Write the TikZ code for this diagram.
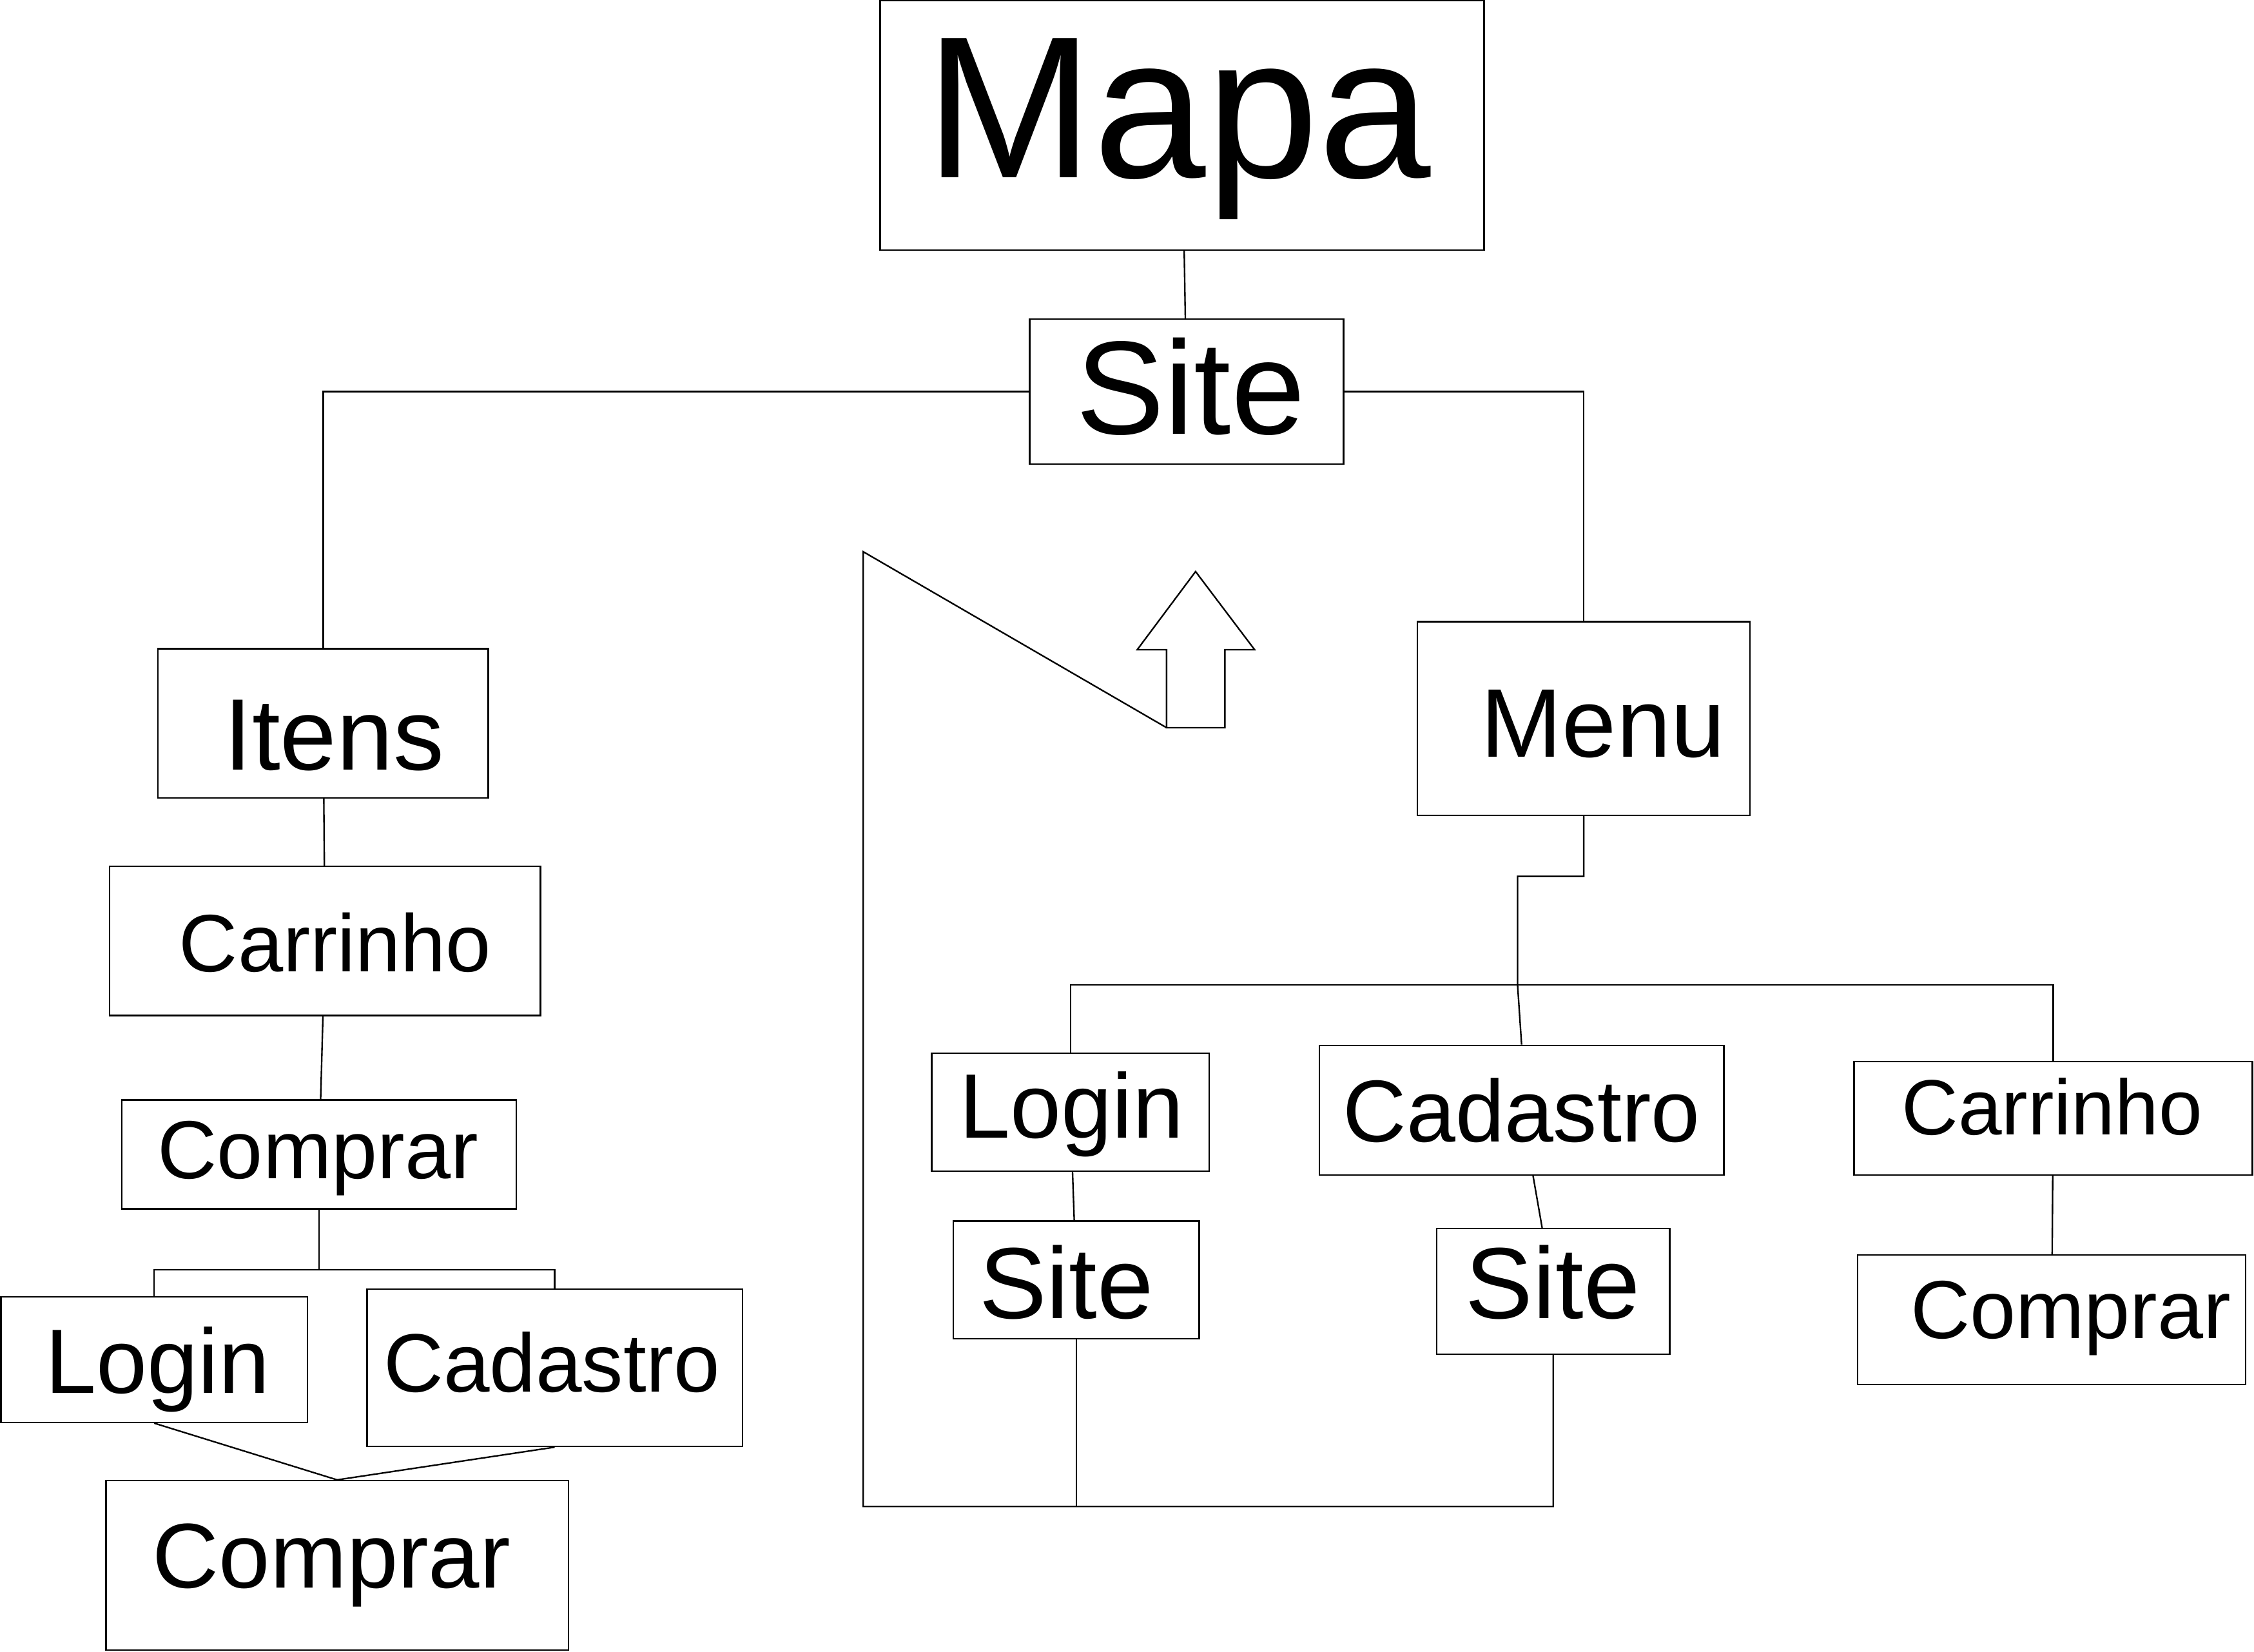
\documentclass[tikz,border=0pt]{standalone}
\usepackage{fontspec}
\setmainfont{Liberation Sans}
\tikzset{
    box/.style={draw,rectangle,inner sep=0pt,line width=0.3pt},
    wh/.style 2 args={minimum width=#1*0.01cm,minimum height=#2*0.01cm},
    word/.style={inner sep=0pt,anchor=base,font=\fontsize{#1}{#1}\selectfont},
    link/.style={-,line width=0.3pt}
}

\begin{document}
\begin{tikzpicture}[x=0.01cm,y=-0.01cm]
    \useasboundingbox (0,0) rectangle (1568,1149);

    % top
    \node[box,wh={420.2}{173.3}] (mapa) at (822.3,87.25) {};
    \node[word=40.0] (mapa t) at (819.5,123.6) {Mapa};
    \node[box,wh={218.3}{100.9}] (site) at (825.45,272.45) {};
    \node[word=26.3] (site t) at (828.2,302.2) {Site};

    % left branch
    \node[box,wh={229.8}{103.8}] (itens) at (224.8,503.2) {};
    \node[word=20.1] (itens t) at (232.3,535.5) {Itens};
    \node[box,wh={299.8}{103.7}] (carrinho 1) at (226.1,654.55) {};
    \node[word=16.1] (carrinho 1 t) at (233.2,676.0) {Carrinho};
    \node[box,wh={274.6}{75.8}] (comprar 1) at (222.0,803.0) {};
    \node[word=16.3] (comprar 1 t) at (221.2,819.7) {Comprar};
    \node[box,wh={213.1}{87.4}] (login 1) at (107.25,945.8) {};
    \node[word=18.1] (login 1 t) at (109.6,969.1) {Login};
    \node[box,wh={261.1}{109.5}] (cadastro 1) at (385.85,951.45) {};
    \node[word=16.4] (cadastro 1 t) at (384.0,968.1) {Cadastro};
    \node[box,wh={321.7}{117.9}] (comprar 2) at (234.55,1088.95) {};
    \node[word=18.2] (comprar 2 t) at (230.6,1104.7) {Comprar};

    % right branch
    \node[box,wh={231.5}{134.7}] (menu) at (1101.75,499.75) {};
    \node[word=19.3] (menu t) at (1115.2,526.5) {Menu};
    \node[box,wh={192.9}{82.1}] (login 2) at (744.65,773.65) {};
    \node[word=18.1] (login 2 t) at (745.5,791.5) {Login};
    \node[box,wh={281.4}{90.1}] (cadastro 2) at (1058.5,772.25) {};
    \node[word=17.4] (cadastro 2 t) at (1058.5,794.3) {Cadastro};
    \node[box,wh={277.1}{78.7}] (carrinho 2) at (1428.25,777.95) {};
    \node[word=15.5] (carrinho 2 t) at (1427.5,789.6) {Carrinho};
    \node[box,wh={170.9}{81.9}] (site 2) at (748.75,890.45) {};
    \node[word=20.0] (site 2 t) at (741.8,917.4) {Site};
    \node[box,wh={162.0}{87.3}] (site 3) at (1080.5,898.35) {};
    \node[word=20.0] (site 3 t) at (1080.2,917.4) {Site};
    \node[box,wh={269.9}{89.9}] (comprar 3) at (1427.3,918.05) {};
    \node[word=16.3] (comprar 3 t) at (1440.5,931.1) {Comprar};

    \coordinate (fork 1) at (222,883.2);
    \coordinate (fork 2) at (1055.7,685.2);
    \coordinate (loop top) at (600.5,383.8);
    \coordinate (loop corner) at (600.5,1048);
    \coordinate (arrow tail) at (811.5,506.2);

    % connectors
    \draw[link] (mapa) -- (site);
    \draw[link] (site.west) -| (itens.north);
    \draw[link] (site.east) -| (menu.north);
    \draw[link] (itens) -- (carrinho 1);
    \draw[link] (carrinho 1) -- (comprar 1);
    \draw[link] (comprar 1.south) -- (fork 1);
    \draw[link] (login 1.north) |- (fork 1) -| (cadastro 1.north);
    \draw[link] (login 1.south) -- (comprar 2.north);
    \draw[link] (cadastro 1.south) -- (comprar 2.north);

    \draw[link] (menu.south) -- ++(0,42) -| (fork 2) -- (cadastro 2.north);
    \draw[link] (login 2.north) |- (fork 2) -| (carrinho 2.north);
    \draw[link] (login 2) -- (site 2);
    \draw[link] (cadastro 2) -- (site 3);
    \draw[link] (carrinho 2) -- (comprar 3);

    % way back to the site
    \draw[link] (site 3.south) |- (loop corner) -- (loop top) -- (arrow tail);
    \draw[link] (site 2.south) -- (site 2.south |- loop corner);
    \draw[link] (arrow tail) -- ++(0,-54.2) -- ++(-20.4,0) -- ++(40.6,-54.4)
        -- ++(41.1,54.4) -- ++(-20.7,0) -- ++(0,54.2) -- cycle;

\end{tikzpicture}
\end{document}
